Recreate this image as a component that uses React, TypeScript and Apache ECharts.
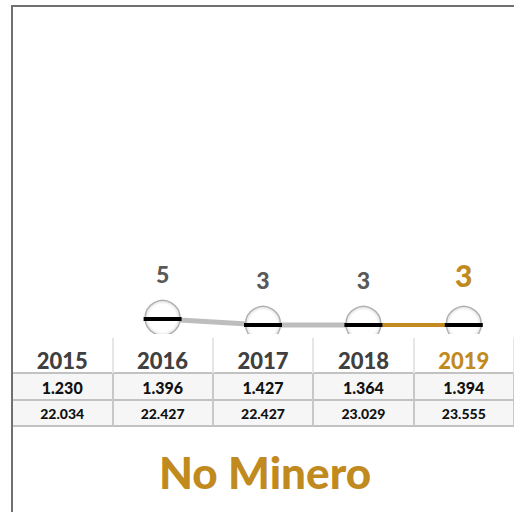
import React, { useEffect, useRef } from "react";
import * as echarts from "echarts";

const years = ["2015", "2016", "2017", "2018", "2019"];
const highlightIndex = 4;
const lineValues: (number | null)[] = [null, 5, 3, 3, 3];
const grayPart: (number | null)[] = [null, 5, 3, 3, null];
const goldPart: (number | null)[] = [null, null, null, 3, 3];
const row1 = ["1.230", "1.396", "1.427", "1.364", "1.394"];
const row2 = ["22.034", "22.427", "22.427", "23.029", "23.555"];
const rows = [row1, row2];
const rowKeys = ["r1", "r2"];
const title = "No Minero";

const GOLD = "#c08a1e";
const FONT = "Lato, 'Open Sans', sans-serif";

export default function App() {
  const ref = useRef<HTMLDivElement>(null);
  useEffect(() => {
    if (!ref.current) return;
    const chart = echarts.init(ref.current, undefined, { renderer: "svg" });
    const catAxis = (gridIndex: number, split: any) => ({
      type: "category",
      gridIndex,
      data: years,
      boundaryGap: true,
      axisLine: { show: false },
      axisTick: { show: false },
      axisLabel: { show: false },
      splitLine: split,
    });
    const circleFill = new echarts.graphic.RadialGradient(0.5, 0.5, 0.5, [
      { offset: 0, color: "#ffffff" },
      { offset: 0.78, color: "#ffffff" },
      { offset: 1, color: "#e2e2e2" },
    ]);
    const option: any = {
      animation: false,
      backgroundColor: "#ffffff",
      grid: [
        { left: 12, right: -3, top: 5, bottom: 178 },
        { left: 12, right: -3, top: 338, height: 35 },
        {
          left: 12,
          right: -3,
          top: 373,
          height: 53,
          show: true,
          backgroundColor: "#f6f6f6",
          borderWidth: 0,
        },
      ],
      xAxis: [
        catAxis(0, { show: false }),
        catAxis(1, { show: true, lineStyle: { color: "#e6e6e6", width: 2 } }),
        catAxis(2, { show: true, lineStyle: { color: "#c8c8c8", width: 2 } }),
      ],
      yAxis: [
        { type: "value", gridIndex: 0, min: 0, max: 110, show: false },
        { type: "category", gridIndex: 1, data: ["h"], show: false },
        {
          type: "category",
          gridIndex: 2,
          data: rowKeys,
          inverse: true,
          axisLine: { show: false },
          axisTick: { show: false },
          axisLabel: { show: false },
          splitLine: { show: true, lineStyle: { color: "#c2c2c2", width: 2 } },
        },
      ],
      series: [
        {
          type: "line",
          xAxisIndex: 0,
          yAxisIndex: 0,
          data: grayPart,
          symbol: "none",
          lineStyle: { color: "#bdbdbd", width: 5 },
          z: 2,
        },
        {
          type: "line",
          xAxisIndex: 0,
          yAxisIndex: 0,
          data: goldPart,
          symbol: "none",
          lineStyle: { color: GOLD, width: 4 },
          z: 2,
        },
        {
          type: "custom",
          xAxisIndex: 0,
          yAxisIndex: 0,
          clip: true,
          z: 3,
          data: lineValues
            .map((v, i) => (v == null ? null : [i, v]))
            .filter((d) => d != null),
          renderItem: (params: any, api: any) => {
            const i = api.value(0);
            const v = api.value(1);
            const p = api.coord([i, v]);
            const hl = i === highlightIndex;
            return {
              type: "group",
              children: [
                {
                  type: "circle",
                  shape: { cx: p[0], cy: p[1] - 1, r: 17.5 },
                  style: { fill: circleFill, stroke: "#b0b0b0", lineWidth: 1.5 },
                },
                {
                  type: "rect",
                  shape: { x: p[0] - 19, y: p[1] - 2, width: 38, height: 4 },
                  style: { fill: "#000000" },
                },
                {
                  type: "text",
                  x: p[0],
                  y: p[1] - (hl ? 50 : 45),
                  style: {
                    text: String(v),
                    fill: hl ? GOLD : "#595959",
                    font: `900 ${hl ? 30 : 23}px ${FONT}`,
                    align: "center",
                    verticalAlign: "middle",
                  },
                },
              ],
            };
          },
        },
        {
          type: "custom",
          xAxisIndex: 1,
          yAxisIndex: 1,
          data: years.map((_, i) => [i, 0]),
          renderItem: (params: any, api: any) => {
            const i = api.value(0);
            const p = api.coord([i, 0]);
            const hl = i === highlightIndex;
            return {
              type: "text",
              x: p[0],
              y: p[1] + 5,
              style: {
                text: years[i],
                fill: hl ? GOLD : "#404040",
                font: `900 22px ${FONT}`,
                align: "center",
                verticalAlign: "middle",
              },
            };
          },
        },
        {
          type: "custom",
          xAxisIndex: 2,
          yAxisIndex: 2,
          data: rows.flatMap((r, ri) => r.map((_, i) => [i, ri])),
          renderItem: (params: any, api: any) => {
            const i = api.value(0);
            const ri = api.value(1);
            const p = api.coord([i, ri]);
            return {
              type: "text",
              x: p[0],
              y: p[1] + 1,
              style: {
                text: rows[ri][i],
                fill: "#111111",
                font: `900 ${ri === 0 ? 16 : 14}px ${FONT}`,
                align: "center",
                verticalAlign: "middle",
              },
            };
          },
        },
      ],
      graphic: [
        {
          type: "polyline",
          z: 100,
          shape: { points: [[12, 512], [12, 6], [514, 6]] },
          style: { stroke: "#707070", lineWidth: 2, fill: null },
        },
        {
          type: "text",
          x: 265,
          y: 472,
          style: {
            text: title,
            fill: GOLD,
            font: `900 44px ${FONT}`,
            align: "center",
            verticalAlign: "middle",
          },
        },
      ],
    };
    chart.setOption(option);
    return () => chart.dispose();
  }, []);
  return (
    <div
      ref={ref}
      style={{ position: "fixed", left: 0, top: 0, width: 514, height: 512 }}
    />
  );
}
